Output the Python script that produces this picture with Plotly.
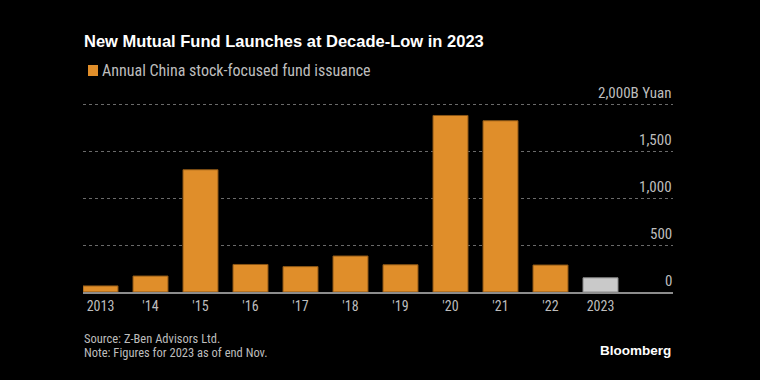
import plotly.graph_objects as go

categories = ["2013", "'14", "'15", "'16", "'17", "'18", "'19", "'20", "'21", "'22", "2023"]
issuance = [65, 170, 1301, 293, 270, 383, 290, 1878, 1822, 287, 151]
bar_colors = ["#E08E2A"] * 10 + ["#C9C9C9"]
line_colors = ["#8a5515"] * 10 + ["#888888"]
y_tickvals = [0, 500, 1000, 1500, 2000]
y_ticktext = ["0", "500", "1,000", "1,500", "2,000B Yuan"]

FONT = "Liberation Sans Narrow, Roboto Condensed, Arial Narrow, Liberation Sans, sans-serif"

BOT = 292
PX_PER_UNIT = 188 / 2000
TOP = 84
H = BOT - TOP
YMAX = H / PX_PER_UNIT

def py(y):
    return (BOT - y) / H

fig = go.Figure()
fig.add_trace(go.Bar(
    x=list(range(len(categories))),
    y=issuance,
    marker=dict(color=bar_colors, line=dict(color=line_colors, width=1)),
    width=0.7,
    showlegend=False,
    hoverinfo="skip",
))

annotations = [
    dict(text="<b>New Mutual Fund Launches at Decade-Low in 2023</b>",
         xref="paper", yref="paper", x=-1 / 590, y=py(41),
         xanchor="left", yanchor="middle", showarrow=False,
         font=dict(family="Liberation Sans, Arial, sans-serif", size=16.5, color="white")),
    dict(text="Annual China stock-focused fund issuance",
         xref="paper", yref="paper", x=(100 - 83) / 590, y=py(70),
         xanchor="left", yanchor="middle", showarrow=False,
         font=dict(size=16, color="#BDBDBD")),
    dict(text="Source: Z-Ben Advisors Ltd.",
         xref="paper", yref="paper", x=-1 / 590, y=py(338),
         xanchor="left", yanchor="middle", showarrow=False, align="left",
         font=dict(size=12.5, color="#BDBDBD")),
    dict(text="Note: Figures for 2023 as of end Nov.",
         xref="paper", yref="paper", x=-1 / 590, y=py(352),
         xanchor="left", yanchor="middle", showarrow=False, align="left",
         font=dict(size=12.5, color="#BDBDBD")),
    dict(text="<b>Bloomberg</b>",
         xref="paper", yref="paper", x=1.0, y=py(350),
         xanchor="right", yanchor="middle", showarrow=False,
         font=dict(family="Liberation Sans, Arial, sans-serif", size=13.5, color="white")),
]
for v, t in zip(y_tickvals, y_ticktext):
    annotations.append(dict(
        text=t, xref="paper", yref="y", x=1.0, y=v,
        xanchor="right", yanchor="bottom", yshift=1, showarrow=False,
        borderpad=0, font=dict(size=15, color="#BDBDBD")))

fig.update_layout(
    width=760, height=380,
    paper_bgcolor="black", plot_bgcolor="black",
    margin=dict(l=83, r=87, t=TOP, b=380 - BOT),
    font=dict(family=FONT, color="#BDBDBD", size=14),
    xaxis=dict(
        range=[-0.35, 11.45],
        tickvals=list(range(len(categories))),
        ticktext=categories,
        showgrid=False, zeroline=False,
        showline=True, linecolor="#8C8C8C", linewidth=1.5,
        ticks="", tickfont=dict(size=14, color="#BDBDBD"),
    ),
    yaxis=dict(
        range=[0, YMAX],
        tickvals=y_tickvals,
        showticklabels=False,
        showgrid=True, gridcolor="#6a6a6a", griddash="dot", gridwidth=1,
        zeroline=False, ticks="",
    ),
    shapes=[dict(type="rect", xref="paper", yref="paper",
                 x0=(88 - 83) / 590, x1=(98 - 83) / 590,
                 y0=py(76), y1=py(65),
                 fillcolor="#E08E2A", line=dict(width=0))],
    annotations=annotations,
)

fig.write_html(
    "out.html",
    config={"displayModeBar": False},
    post_script="document.body.style.margin='0';document.body.style.background='black';document.documentElement.style.background='black';",
)
